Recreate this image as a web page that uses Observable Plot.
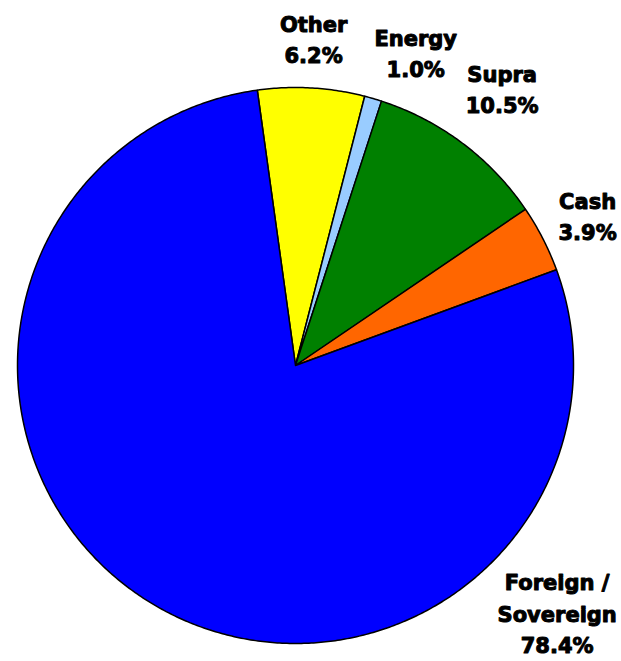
<!DOCTYPE html>
<html><head><meta charset="utf-8">
<script src="https://cdn.jsdelivr.net/npm/d3@7"></script>
<script src="https://cdn.jsdelivr.net/npm/@observablehq/plot@0.6"></script>
<style>body{margin:0;background:#fff}</style>
</head><body><div id="chart"></div>
<script>
// data (clockwise order starting at the top-left)
const categories = ["Other", "Energy", "Supra", "Cash", "Foreign / Sovereign"];
const labelNames = ["Other", "Energy", "Supra", "Cash", "Foreign /\nSovereign"];
const values = [6.2, 1.0, 10.5, 3.9, 78.4];
const colors = ["#FFFF00", "#99CCFF", "#008000", "#FF6600", "#0000FF"];

// layout
const W = 621, H = 661, CX = 295, CY = 365, R = 278;
const startDeg = -7.9;
const labelAngle = [3.2, 21.2, 37, 63.3, 133.7];
const labelRadius = [1.167, 1.196, 1.235, 1.176, 1.302];

const total = d3.sum(values);
const rad = d => d * Math.PI / 180;
const pts = [];
let acc = 0;
values.forEach((v, i) => {
  const a0 = startDeg + acc / total * 360;
  acc += v;
  const a1 = startDeg + acc / total * 360;
  pts.push({cat: categories[i], x: 0, y: 0});
  const n = Math.max(2, Math.ceil((a1 - a0) / 0.5));
  for (let k = 0; k <= n; k++) {
    const a = rad(a0 + (a1 - a0) * k / n);
    pts.push({cat: categories[i], x: Math.sin(a), y: Math.cos(a)});
  }
});
const labels = categories.map((c, i) => ({
  text: `${labelNames[i]}\n${values[i].toFixed(1)}%`,
  x: labelRadius[i] * Math.sin(rad(labelAngle[i])),
  y: labelRadius[i] * Math.cos(rad(labelAngle[i]))
}));

const chart = Plot.plot({
  width: W, height: H,
  margin: 0,
  x: {domain: [-CX / R, (W - CX) / R], range: [0, W], axis: null},
  y: {domain: [(CY - H) / R, CY / R], range: [H, 0], axis: null},
  color: {domain: categories, range: colors},
  marks: [
    Plot.line(pts, {x: "x", y: "y", z: "cat", fill: "cat", stroke: "black", strokeWidth: 1.5, strokeLinejoin: "round", curve: "linear-closed"}),
    Plot.text(labels, {x: "x", y: "y", dy: -4, text: "text", fontSize: 21, fontWeight: "bold", fontFamily: "DejaVu Sans", lineHeight: 1.5, fill: "black", stroke: "black", strokeWidth: 1})
  ]
});
document.getElementById("chart").appendChild(chart);
</script>
</body></html>
